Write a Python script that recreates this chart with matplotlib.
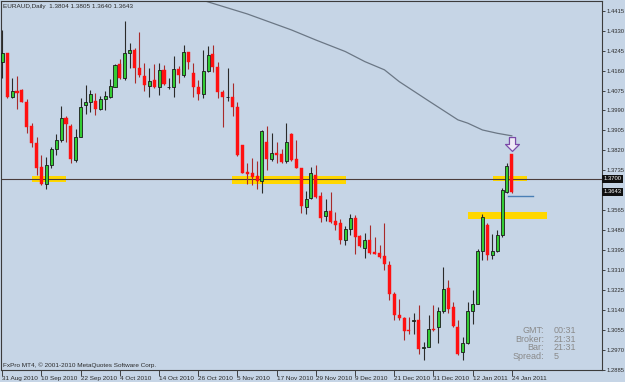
import matplotlib
matplotlib.use("Agg")
import matplotlib.pyplot as plt
from matplotlib.patches import Rectangle
from matplotlib.path import Path
import matplotlib.transforms as mtransforms

plt.rcParams['font.family'] = ['Liberation Sans', 'DejaVu Sans']

# EURAUD daily candles, 31 Aug 2010 .. 24 Jan 2011
opens = [1.4195, 1.4234, 1.4046, 1.4074, 1.4077, 1.4027, 1.3924, 1.3850, 1.3750, 1.3676,
         1.3757, 1.3828, 1.3864, 1.3956, 1.3924, 1.3779, 1.3878, 1.4013, 1.4027, 1.4030,
         1.3995, 1.4039, 1.4046, 1.4091, 1.4187, 1.4127, 1.4236, 1.4248, 1.4172, 1.4137,
         1.4096, 1.4120, 1.4091, 1.4162, 1.4088, 1.4089, 1.4165, 1.4141, 1.4238, 1.4151,
         1.4089, 1.4060, 1.4159, 1.4229, 1.4177, 1.4070, 1.4046, 1.4049, 1.4006, 1.3843,
         1.3729, 1.3722, 1.3710, 1.3690, 1.3857, 1.3782, 1.3810, 1.3803, 1.3774, 1.3890,
         1.3782, 1.3746, 1.3579, 1.3618, 1.3715, 1.3625, 1.3540, 1.3561, 1.3518, 1.3509,
         1.3437, 1.3487, 1.3532, 1.3454, 1.3406, 1.3440, 1.3388, 1.3383, 1.3370, 1.3331,
         1.3210, 1.3120, 1.3108, 1.3057, 1.3093, 1.3099, 1.2980, 1.2985, 1.3061, 1.3068,
         1.3136, 1.3234, 1.3153, 1.3068, 1.2961, 1.3000, 1.3136, 1.3167, 1.3390, 1.3504,
         1.3373, 1.3390, 1.3459, 1.3643, 1.3804]
highs = [1.4333, 1.4236, 1.4127, 1.4137, 1.4080, 1.4037, 1.3935, 1.3875, 1.3800, 1.3790,
         1.3833, 1.3890, 1.4009, 1.3966, 1.3932, 1.3910, 1.4042, 1.4099, 1.4077, 1.4063,
         1.4053, 1.4074, 1.4123, 1.4188, 1.4208, 1.4371, 1.4276, 1.4255, 1.4323, 1.4191,
         1.4172, 1.4187, 1.4191, 1.4184, 1.4127, 1.4222, 1.4180, 1.4269, 1.4241, 1.4191,
         1.4120, 1.4248, 1.4265, 1.4269, 1.4195, 1.4077, 1.4172, 1.4106, 1.4027, 1.3843,
         1.3765, 1.3788, 1.3774, 1.3907, 1.3924, 1.3892, 1.3857, 1.3828, 1.3935, 1.3892,
         1.3864, 1.3746, 1.3646, 1.3750, 1.3757, 1.3643, 1.3615, 1.3643, 1.3558, 1.3530,
         1.3497, 1.3551, 1.3544, 1.3459, 1.3470, 1.3501, 1.3451, 1.3416, 1.3513, 1.3349,
         1.3217, 1.3189, 1.3110, 1.3110, 1.3127, 1.3160, 1.3004, 1.3118, 1.3163, 1.3153,
         1.3324, 1.3267, 1.3174, 1.3099, 1.3025, 1.3174, 1.3224, 1.3402, 1.3551, 1.3509,
         1.3466, 1.3480, 1.3658, 1.3767, 1.3805]
lows = [1.4128, 1.4045, 1.4042, 1.3995, 1.4025, 1.3895, 1.3835, 1.3715, 1.3672, 1.3654,
        1.3743, 1.3800, 1.3857, 1.3857, 1.3767, 1.3771, 1.3875, 1.3974, 1.3985, 1.3971,
        1.3992, 1.3992, 1.4042, 1.4089, 1.4123, 1.4120, 1.4170, 1.4106, 1.4134, 1.4073,
        1.4049, 1.4084, 1.4056, 1.4099, 1.4080, 1.4049, 1.4106, 1.4134, 1.4165, 1.4049,
        1.4035, 1.4042, 1.4155, 1.4155, 1.4044, 1.3921, 1.4030, 1.3968, 1.3796, 1.3722,
        1.3675, 1.3672, 1.3654, 1.3639, 1.3736, 1.3774, 1.3767, 1.3767, 1.3767, 1.3776,
        1.3743, 1.3554, 1.3551, 1.3615, 1.3618, 1.3515, 1.3520, 1.3513, 1.3483, 1.3420,
        1.3416, 1.3459, 1.3381, 1.3409, 1.3364, 1.3378, 1.3378, 1.3364, 1.3309, 1.3181,
        1.3096, 1.3096, 1.3011, 1.3039, 1.3039, 1.2954, 1.2926, 1.2982, 1.3051, 1.3000,
        1.3127, 1.3127, 1.3068, 1.2947, 1.2929, 1.2997, 1.3082, 1.3164, 1.3355, 1.3352,
        1.3359, 1.3388, 1.3451, 1.3639, 1.3640]
closes = [1.4234, 1.4049, 1.4073, 1.4066, 1.4027, 1.3921, 1.3850, 1.3747, 1.3676, 1.3757,
          1.3828, 1.3864, 1.3956, 1.3931, 1.3782, 1.3878, 1.4006, 1.4027, 1.4059, 1.3996,
          1.4037, 1.4052, 1.4094, 1.4184, 1.4127, 1.4236, 1.4248, 1.4170, 1.4141, 1.4099,
          1.4116, 1.4089, 1.4162, 1.4101, 1.4088, 1.4165, 1.4141, 1.4241, 1.4195, 1.4091,
          1.4060, 1.4159, 1.4226, 1.4177, 1.4067, 1.4046, 1.4046, 1.4003, 1.3800, 1.3725,
          1.3718, 1.3705, 1.3690, 1.3902, 1.3783, 1.3807, 1.3800, 1.3771, 1.3857, 1.3779,
          1.3746, 1.3584, 1.3615, 1.3722, 1.3622, 1.3534, 1.3561, 1.3515, 1.3504, 1.3437,
          1.3487, 1.3532, 1.3451, 1.3412, 1.3437, 1.3383, 1.3381, 1.3366, 1.3338, 1.3210,
          1.3120, 1.3108, 1.3051, 1.3051, 1.3099, 1.2976, 1.2985, 1.3061, 1.3054, 1.3136,
          1.3231, 1.3146, 1.3071, 1.2954, 1.3000, 1.3135, 1.3167, 1.3390, 1.3537, 1.3373,
          1.3390, 1.3459, 1.3651, 1.3754, 1.3643]

date_labels = ['31 Aug 2010', '10 Sep 2010', '22 Sep 2010', '4 Oct 2010', '14 Oct 2010',
               '26 Oct 2010', '5 Nov 2010', '17 Nov 2010', '29 Nov 2010', '9 Dec 2010',
               '21 Dec 2010', '31 Dec 2010', '12 Jan 2011', '24 Jan 2011']
# 1.3650 is hidden behind the price boxes on the reference
price_ticks = [1.2885, 1.2970, 1.3055, 1.3140, 1.3225, 1.3310, 1.3395, 1.3480, 1.3565,
               1.3735, 1.3820, 1.3905, 1.3990, 1.4075, 1.4160, 1.4245, 1.4330, 1.4415]

# moving average read at a few bars
ma_bar = [40, 50, 59, 64, 70, 74, 78, 81, 87, 93, 95, 98, 101, 104]
ma_price = [1.4465, 1.4401, 1.4333, 1.4290, 1.4241, 1.4198, 1.4163, 1.4113, 1.4031,
            1.3950, 1.3936, 1.3907, 1.3893, 1.3882]

# drawn objects
level_line = 1.3700
zone_x0 = [6.0, 46.9, 100.2, 95.1]
zone_x1 = [12.9, 70.1, 107.0, 111.1]
zone_lo = [1.3684, 1.3676, 1.3689, 1.3526]
zone_hi = [1.3712, 1.3712, 1.3712, 1.3556]
blue_level = 1.3625
blue_x = [103.3, 108.3]
arrow_bar = 104.1
arrow_price = 1.3846

bg = '#c6d5e6'
fig = plt.figure(figsize=(6.25, 3.82), dpi=100, facecolor=bg)
ax = fig.add_axes([0.0016, 0.0314, 0.9616, 0.9647])
ax.set_facecolor(bg)

n = len(opens)
idx = list(range(n))
ax.set_xlim(-0.265, 122.4)
ax.set_ylim(1.2885, 1.4454)

# zones and lines
for x0, x1, lo, hi in zip(zone_x0, zone_x1, zone_lo, zone_hi):
    ax.add_patch(Rectangle((x0, lo), x1 - x0, hi - lo, facecolor='#ffd700',
                           edgecolor='none', zorder=1))
ax.axhline(level_line, color='#4a3c3c', lw=0.8, zorder=2)
ax.plot(ma_bar, ma_price, color='#6b7785', lw=0.9, zorder=2)
ax.plot(blue_x, [blue_level, blue_level], color='#4a7fb5', lw=1.0, zorder=2)

# candles
green = '#33cc33'
red = '#ff1010'
for i in idx:
    o, h, l, c = opens[i], highs[i], lows[i], closes[i]
    up = c >= o
    ax.vlines(i, l, h, color='#2a2a2a' if up else '#a82a2a', lw=0.8, zorder=3)
    lo_b = min(o, c)
    hgt = max(abs(c - o), 0.0003)
    if up:
        ax.bar(i, hgt, 0.62, bottom=lo_b, color=green, edgecolor='#1a1a1a',
               linewidth=0.6, zorder=4)
    else:
        ax.bar(i, hgt, 0.62, bottom=lo_b, color=red, edgecolor=red,
               linewidth=0.3, zorder=4)

# hollow down arrow
arrow = Path([(-0.22, 0.5), (0.22, 0.5), (0.22, 0.0), (0.5, 0.0), (0.0, -0.5),
              (-0.5, 0.0), (-0.22, 0.0), (-0.22, 0.5)])
ax.plot([arrow_bar], [arrow_price], marker=arrow, markersize=10, mfc='#eeeaf6',
        mec='#7a4aa8', mew=0.9, zorder=5)

# axes styling
for s in ax.spines.values():
    s.set_color('#3c3c3c')
    s.set_linewidth(0.8)
ax.yaxis.tick_right()
ax.set_yticks(price_ticks)
ax.set_yticklabels(['%.4f' % p for p in price_ticks])
ax.tick_params(axis='y', length=2.5, width=0.6, pad=0.8, labelsize=4.2,
               colors='#2a2a2a')
ax.set_xticks(range(0, n, 8))
ax.set_xticklabels(date_labels, ha='left')
ax.tick_params(axis='x', length=4, width=0.6, pad=0, labelsize=4.6,
               colors='#2a2a2a')

# price boxes on axis
tr = mtransforms.blended_transform_factory(ax.transAxes, ax.transData)
for val in [level_line, closes[-1]]:
    ax.text(1.003, val, '%.4f' % val, transform=tr, fontsize=4.2, color='white',
            va='center', ha='left', clip_on=False,
            bbox=dict(boxstyle='square,pad=0.25', fc='#101010', ec='none'), zorder=6)

# texts
fig.text(3 / 625, 1 - 6.5 / 382,
         'EURAUD,Daily  %.4f %.4f %.4f %.4f' % (opens[-1], highs[-1], lows[-1], closes[-1]),
         fontsize=4.6, color='#2a2a2a', va='center', ha='left')
fig.text(3 / 625, 1 - 365 / 382, 'FxPro MT4, \u00a9 2001-2010 MetaQuotes Software Corp.',
         fontsize=4.6, color='#2a2a2a', va='center', ha='left')
info_keys = ['GMT:', 'Broker:', 'Bar:', 'Spread:']
info_vals = ['00:31', '21:31', '21:31', '5']
for k, (a, b) in enumerate(zip(info_keys, info_vals)):
    yy = 1 - (330.5 + 8.7 * k) / 382
    fig.text(544 / 625, yy, a, fontsize=6.5, color='#8a8a8a', ha='right', va='center')
    fig.text(554 / 625, yy, b, fontsize=6.5, color='#8a8a8a', ha='left', va='center')

fig.savefig('out.png', dpi=100, facecolor=bg)
